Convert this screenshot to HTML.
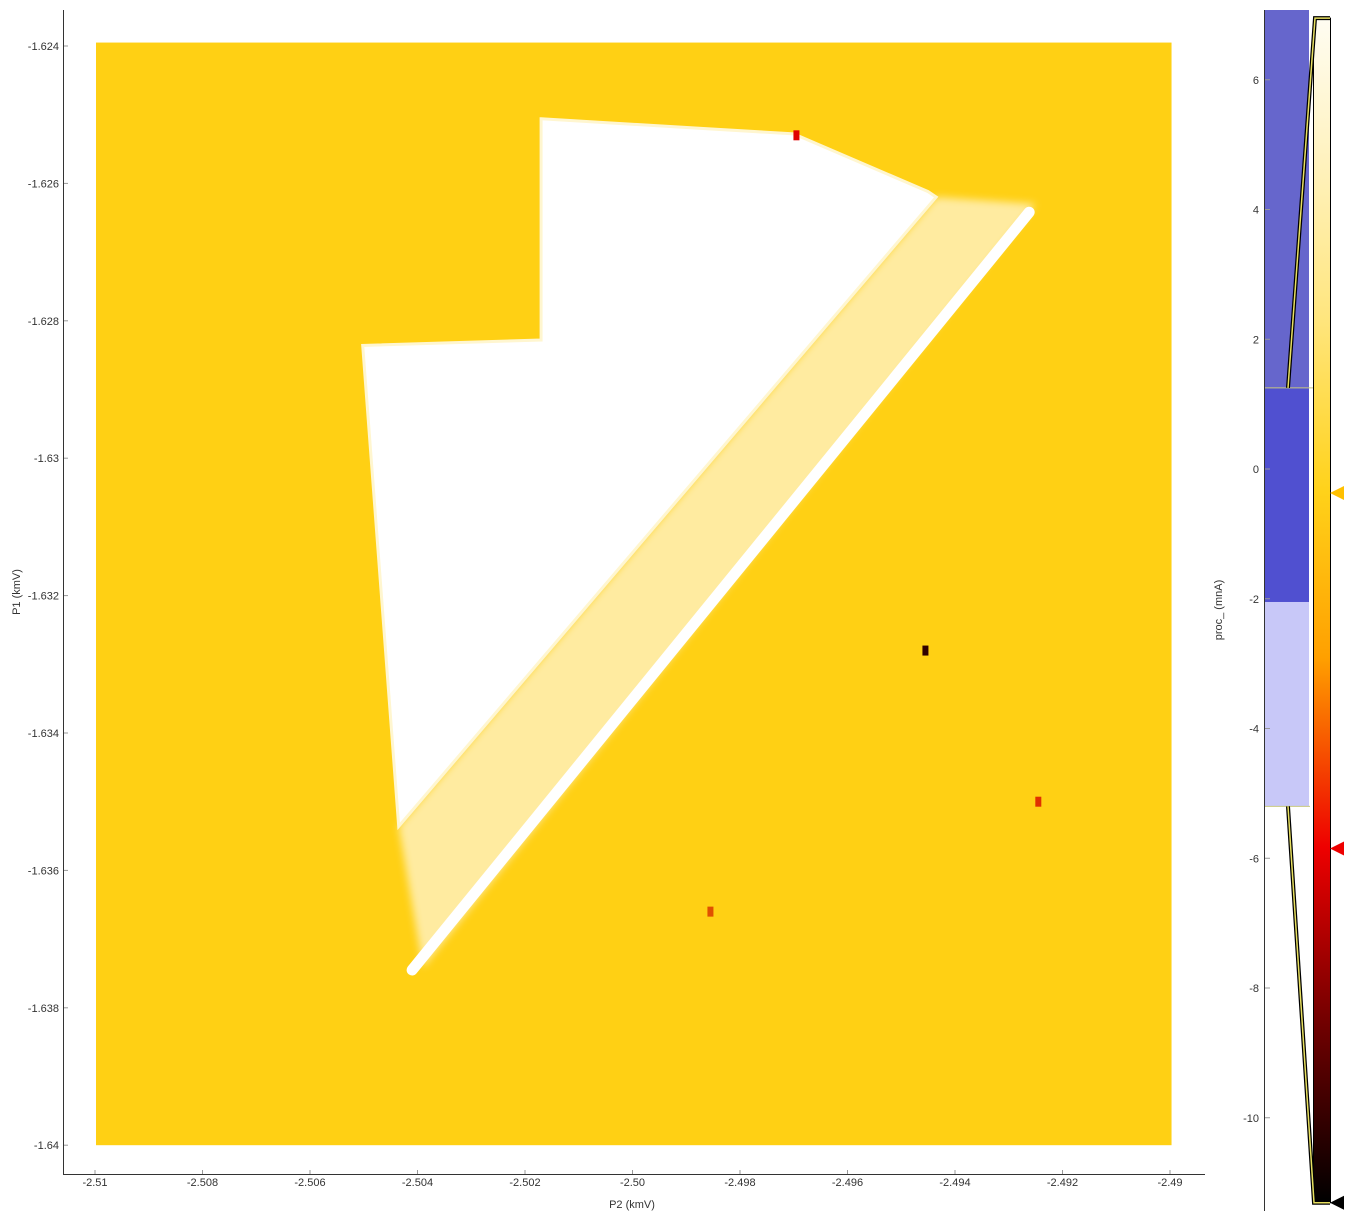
<!DOCTYPE html>
<html><head><meta charset="utf-8"><style>
html,body{margin:0;padding:0;background:#fff;}
svg text{font-family:"Liberation Sans",sans-serif;font-size:11px;fill:#333;}
</style></head>
<body>
<svg id="chart" width="1354" height="1221" xmlns="http://www.w3.org/2000/svg">
<defs>
<linearGradient id="cmap" x1="0" y1="0" x2="0" y2="1">
<stop offset="0" stop-color="#FFFDF2"/>
<stop offset="0.1" stop-color="#FFF4C8"/>
<stop offset="0.25" stop-color="#FFE680"/>
<stop offset="0.4" stop-color="#FFD21A"/>
<stop offset="0.54" stop-color="#FFA000"/>
<stop offset="0.7" stop-color="#EE0000"/>
<stop offset="0.85" stop-color="#700000"/>
<stop offset="1" stop-color="#000000"/>
</linearGradient>
<filter id="blur"><feGaussianBlur stdDeviation="4"/></filter>
</defs>
<g id="plot"></g>
<g id="cbar"></g>
</svg>
<script>
// Axis data
const xTicks = [-2.51,-2.508,-2.506,-2.504,-2.502,-2.5,-2.498,-2.496,-2.494,-2.492,-2.49];
const xTickLabels = ["-2.51","-2.508","-2.506","-2.504","-2.502","-2.50","-2.498","-2.496","-2.494","-2.492","-2.49"];
const yTicks = [-1.624,-1.626,-1.628,-1.63,-1.632,-1.634,-1.636,-1.638,-1.64];
const yTickLabels = ["-1.624","-1.626","-1.628","-1.63","-1.632","-1.634","-1.636","-1.638","-1.64"];
const cTicks = [6,4,2,0,-2,-4,-6,-8,-10];
// Data extent
const xExtent = [-2.51, -2.48999];
const yExtent = [-1.64, -1.62395];
// White region (x,y in data units)
const whiteRegionX = [-2.50170,-2.49700,-2.49450,-2.49435,-2.50435,-2.50502,-2.50170,-2.50170];
const whiteRegionY = [-1.62506,-1.62528,-1.62612,-1.62620,-1.63536,-1.62836,-1.62828,-1.62506];
// Fringe band
const fringeX = [-2.49435,-2.49250,-2.50390,-2.50435];
const fringeY = [-1.62620,-1.62630,-1.63741,-1.63536];
// Bright stripe
const stripeX = [-2.49262,-2.50410];
const stripeY = [-1.62642,-1.63745];
// Outlier pixels
const outX = [-2.49695,-2.49455,-2.49245,-2.49855];
const outY = [-1.62530,-1.63280,-1.63500,-1.63660];
const outC = ["#E00000","#300000","#E03000","#E05000"];
// colorbar data
const cRange = [6.95, -11.31];
const histSegVal = [[7.2,1.25,"#6666CC"],[1.25,-2.05,"#5050D0"],[-2.05,-5.2,"#C8C8F8"]];
const markerVals = [-0.37,-5.85,-11.31];
const markerColors = ["#FFC000","#EE0000","#000000"];
const curveVals = [[6.95,1.25],[-5.2,-11.31]];

const NS="http://www.w3.org/2000/svg";
function X(v){return 95+(v-(-2.51))/0.002*107.5;}
function Y(v){return 46+(v-(-1.624))/(-0.002)*137.4;}
function C(v){return 469-(v)/2*129.75;}
function el(tag,attrs,parent,text){const e=document.createElementNS(NS,tag);for(const k in attrs)e.setAttribute(k,attrs[k]);if(text!==undefined)e.textContent=text;parent.appendChild(e);return e;}
const plot=document.getElementById('plot');
const cb=document.getElementById('cbar');

let r=el('rect',{x:X(xExtent[0])+1,y:Y(yExtent[1]),width:X(xExtent[1])-X(xExtent[0]),height:Y(yExtent[0])-Y(yExtent[1]),fill:"#FFD014"},plot);

function poly(xs,ys){return xs.map((x,i)=>X(x).toFixed(1)+","+Y(ys[i]).toFixed(1)).join(" ");}
let f=el('polygon',{points:poly(fringeX,fringeY),fill:"#FFEBA0",filter:"url(#blur)"},plot);

let w=el('polygon',{points:poly(whiteRegionX,whiteRegionY),fill:"#FFFFFF",stroke:"#FFF6D0",'stroke-width':3},plot);

let s=el('line',{x1:X(stripeX[0]),y1:Y(stripeY[0]),x2:X(stripeX[1]),y2:Y(stripeY[1]),stroke:"#FFFFFF",'stroke-width':11,'stroke-linecap':'round'},plot);

outX.forEach((x,i)=>{let p=el('rect',{x:X(x)-3,y:Y(outY[i])-5,width:6,height:10,fill:outC[i]},plot);
});

// axes
let ax=el('path',{d:"M63.5,10 V1174.5 H1205",stroke:"#333",fill:"none",'stroke-width':1},plot);

xTicks.forEach((t,i)=>{el('line',{x1:X(t),x2:X(t),y1:1170,y2:1174,stroke:"#999"},plot);
let tx=el('text',{x:X(t),y:1186,'text-anchor':'middle'},plot,xTickLabels[i]);
});
yTicks.forEach((t,i)=>{el('line',{x1:64,x2:68,y1:Y(t),y2:Y(t),stroke:"#999"},plot);
let ty=el('text',{x:59,y:Y(t)+4,'text-anchor':'end'},plot,yTickLabels[i]);
});
let xt=el('text',{x:632,y:1208,'text-anchor':'middle','font-size':'10'},plot,"P2 (kmV)");

let yt=el('text',{x:20,y:592,'text-anchor':'middle',transform:"rotate(-90 20 592)",'font-size':'10'},plot,"P1 (kmV)");


// colorbar histogram
histSegVal.forEach(sg=>{let top=Math.max(10,C(sg[0]));let h=el('rect',{x:1264,y:top,width:45,height:C(sg[1])-top,fill:sg[2]},cb);
});
el('line',{x1:1264,x2:1330,y1:C(1.25),y2:C(1.25),stroke:"#C8C880"},cb);
el('line',{x1:1264,x2:1310,y1:C(-5.2),y2:C(-5.2),stroke:"#C8C880"},cb);
let cax=el('line',{x1:1264.5,x2:1264.5,y1:10,y2:1211,stroke:"#333"},cb);

cTicks.forEach(t=>{el('line',{x1:1265,x2:1270,y1:C(t),y2:C(t),stroke:"#999"},cb);
let tt=el('text',{x:1259,y:C(t)+4,'text-anchor':'end'},cb,String(t));
});
let ct=el('text',{x:1222,y:610,'text-anchor':'middle',transform:"rotate(-90 1222 610)",'font-size':'10'},cb,"proc_ (mnA)");

let g=el('rect',{x:1313.5,y:C(cRange[0]),width:17,height:C(cRange[1])-C(cRange[0]),fill:"url(#cmap)",stroke:"#000"},cb);

// transfer curves
const c1=`M1330,${C(curveVals[0][0])} H1315 L1288,${C(curveVals[0][1])}`;
const c2=`M1288,${C(curveVals[1][0])} L1314,${C(curveVals[1][1])} H1330`;
[c1,c2].forEach(d=>{el('path',{d:d,stroke:"#000",'stroke-width':4,fill:"none"},cb);
let p=el('path',{d:d,stroke:"#E8E060",'stroke-width':1.5,fill:"none"},cb);
});
markerVals.forEach((v,i)=>{const y=C(v);let m=el('polygon',{points:`1330,${y} 1344,${y-7} 1344,${y+7}`,fill:markerColors[i]},cb);
});
</script>
</body></html>
